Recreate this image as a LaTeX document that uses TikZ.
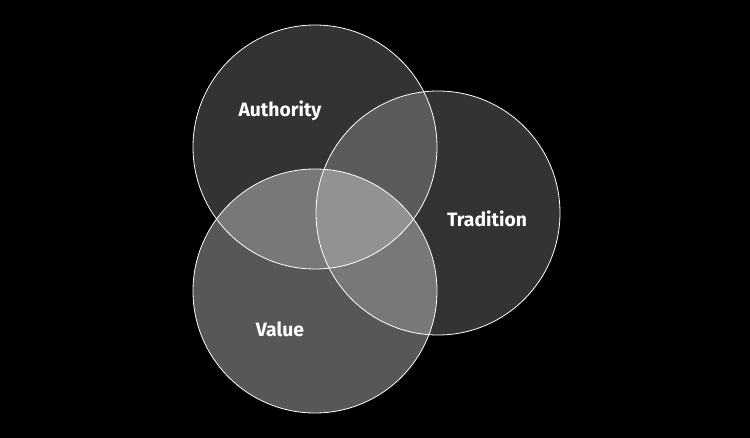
\documentclass[tikz,border=0pt]{standalone}
\usepackage{fontspec}
\setmainfont{Fira Sans}
\usepackage{tikz}
\usetikzlibrary{positioning}
\tikzset{
  % Set styles
  setcircle/.style={circle, draw=white, line width=0.6pt, fill=white, minimum size=244*0.75pt, inner sep=0pt},
  setlabel/.style={text=white, font=\fontsize{14.5}{17}\selectfont\bfseries}
}

\begin{document}
\begin{tikzpicture}[x=0.75pt, y=-0.75pt]
  % Background
  \fill[black] (0,0) rectangle (750,438);
  \useasboundingbox (0,0) rectangle (750,438);

  % Sets
  \node[setcircle, fill opacity=0.2] (authority) at (315,147) {};
  \node[setcircle, fill opacity=0.2] (tradition) at (438,213) {};
  \node[setcircle, fill opacity=0.34] (value) at (315,291) {};

  % Labels
  \node[setlabel] (authlabel) at (280,111) {Authority};
  \node[setlabel] (tradlabel) at (487,219) {Tradition};
  \node[setlabel] (vallabel) at (280,329) {Value};
\end{tikzpicture}
\end{document}
